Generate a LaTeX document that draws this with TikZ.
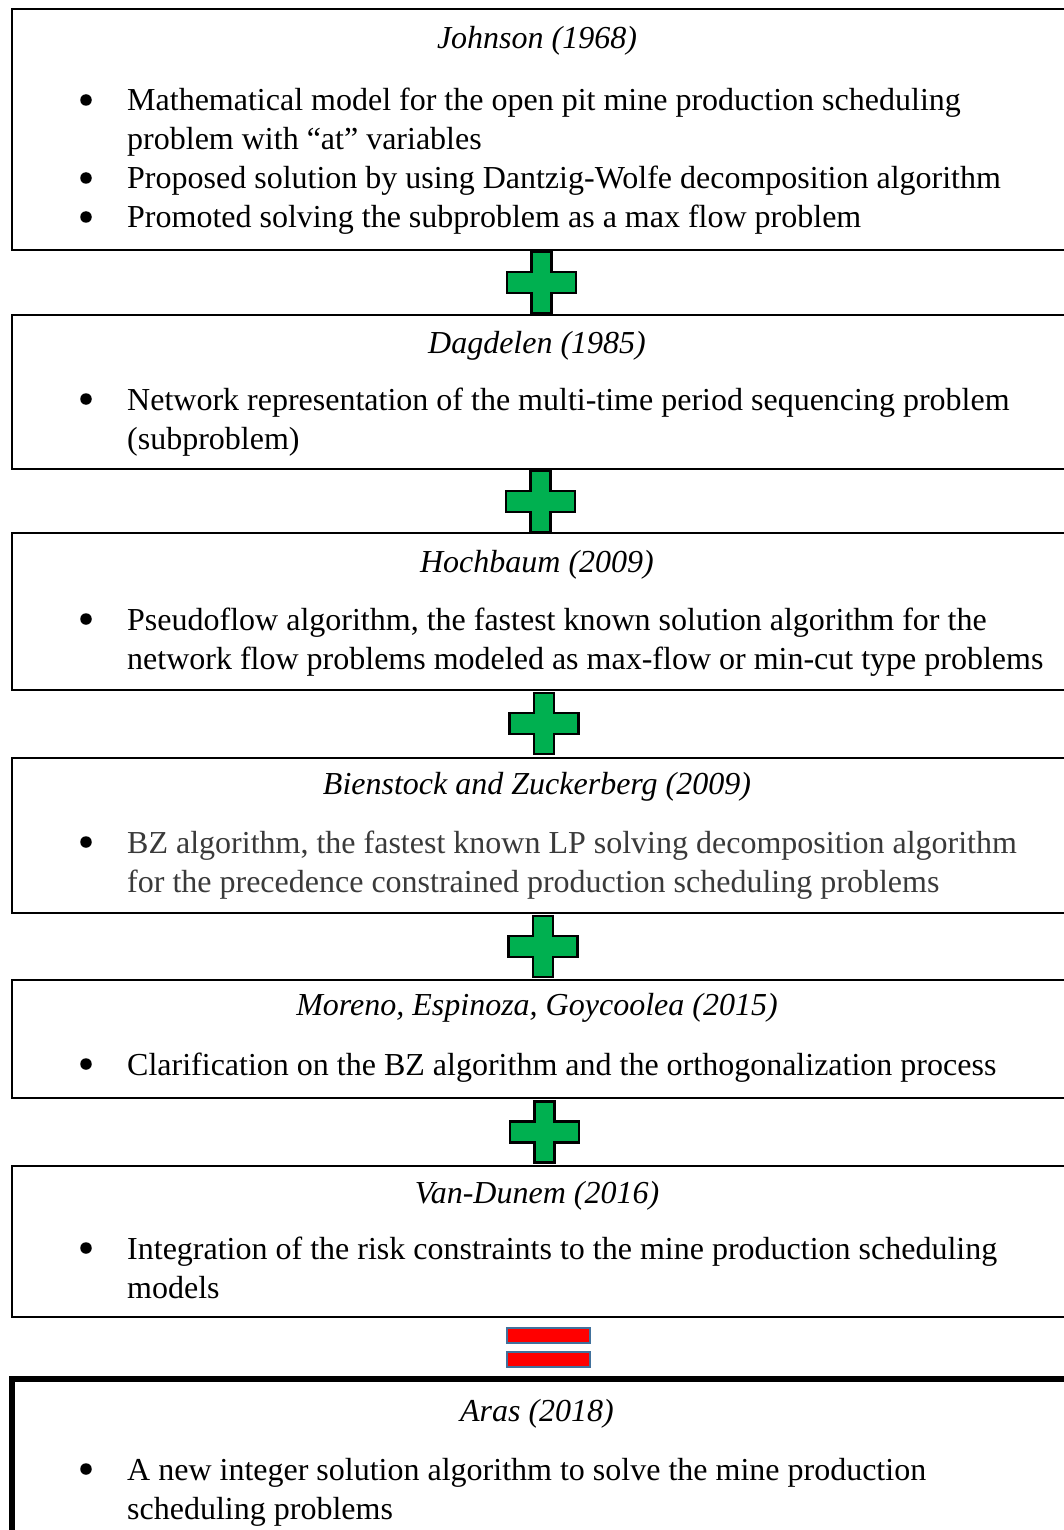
\documentclass[tikz,border=0pt]{standalone}
\usepackage{fontspec}
\setmainfont{Liberation Serif}
\definecolor{plusgreen}{HTML}{00B050}
\definecolor{eqred}{HTML}{FF0000}
\definecolor{eqedge}{HTML}{41719C}
\definecolor{softtext}{HTML}{3A3A3A}
\tikzset{
  pics/plusmark/.style={code={
    \draw[plussign] (-10,-30.5) -- (10,-30.5) -- (10,-10.5) -- (34.5,-10.5)
      -- (34.5,10.5) -- (10,10.5) -- (10,30.5) -- (-10,30.5) -- (-10,10.5)
      -- (-34.5,10.5) -- (-34.5,-10.5) -- (-10,-10.5) -- cycle;}}
}
\begin{document}
\begin{tikzpicture}[x=1pt,y=-1pt,
  entrybox/.style={draw=black, line width=2.2pt, fill=white, inner sep=0pt,
    anchor=north west, minimum width=1075pt},
  finalbox/.style={entrybox, line width=6pt},
  heading/.style={font=\fontsize{32}{39}\selectfont\itshape, anchor=base, inner sep=0pt},
  itemtext/.style={font=\fontsize{32}{39}\selectfont, anchor=base west, inner sep=0pt},
  bulletmark/.style={circle, fill=black, inner sep=0pt, minimum size=11.5pt},
  plussign/.style={draw=black, line width=2.2pt, fill=plusgreen, line join=miter},
  eqbar/.style={draw=eqedge, line width=2pt, fill=eqred}]
\useasboundingbox (0,0) rectangle (1064,1530);
\clip (0,0) rectangle (1064,1530);
\fill[white] (0,0) rectangle (1064,1530);

% ---- Johnson (1968)
\node[entrybox, minimum height=241pt] (b1) at (10.5,8) {};
\node[heading] (t1) at (537,49) {Johnson (1968)};
\node[bulletmark] (d1a) at (86,100) {};
\node[itemtext] (l1a) at (127,111) {Mathematical model for the open pit mine production scheduling};
\node[itemtext] (l1b) at (127,150) {problem with “at” variables};
\node[bulletmark] (d1b) at (86,178) {};
\node[itemtext] (l1c) at (127,189) {Proposed solution by using Dantzig-Wolfe decomposition algorithm};
\node[bulletmark] (d1c) at (86,217) {};
\node[itemtext] (l1d) at (127,228) {Promoted solving the subproblem as a max flow problem};

\pic at (541.5,282.5) {plusmark};

% ---- Dagdelen (1985)
\node[entrybox, minimum height=154pt] (b2) at (10.5,314) {};
\node[heading] (t2) at (537,353) {Dagdelen (1985)};
\node[bulletmark] (d2a) at (86,399) {};
\node[itemtext] (l2a) at (127,410) {Network representation of the multi-time period sequencing problem};
\node[itemtext] (l2b) at (127,449) {(subproblem)};

\pic at (540.5,501.5) {plusmark};

% ---- Hochbaum (2009)
\node[entrybox, minimum height=157pt] (b3) at (10.5,532) {};
\node[heading] (t3) at (537,572) {Hochbaum (2009)};
\node[bulletmark] (d3a) at (86,619) {};
\node[itemtext] (l3a) at (127,630) {Pseudoflow algorithm, the fastest known solution algorithm for the};
\node[itemtext] (l3b) at (127,669) {network flow problems modeled as max-flow or min-cut type problems};

\pic at (544,723.5) {plusmark};

% ---- Bienstock and Zuckerberg (2009)
\node[entrybox, minimum height=155pt] (b4) at (10.5,757) {};
\node[heading] (t4) at (537,794) {Bienstock and Zuckerberg (2009)};
\node[bulletmark] (d4a) at (86,842) {};
\node[itemtext, text=softtext] (l4a) at (127,853) {BZ algorithm, the fastest known LP solving decomposition algorithm};
\node[itemtext, text=softtext] (l4b) at (127,892) {for the precedence constrained production scheduling problems};

\pic at (543,946.5) {plusmark};

% ---- Moreno, Espinoza, Goycoolea (2015)
\node[entrybox, minimum height=118pt] (b5) at (10.5,979) {};
\node[heading] (t5) at (537,1015) {Moreno, Espinoza, Goycoolea (2015)};
\node[bulletmark] (d5a) at (86,1064) {};
\node[itemtext] (l5a) at (127,1075) {Clarification on the BZ algorithm and the orthogonalization process};

\pic at (544.5,1132) {plusmark};

% ---- Van-Dunem (2016)
\node[entrybox, minimum height=151pt] (b6) at (10.5,1165) {};
\node[heading] (t6) at (537,1203) {Van-Dunem (2016)};
\node[bulletmark] (d6a) at (86,1248) {};
\node[itemtext] (l6a) at (127,1259) {Integration of the risk constraints to the mine production scheduling};
\node[itemtext] (l6b) at (127,1298) {models};

% ---- equals sign
\draw[eqbar] (507,1328) rectangle (590,1343);
\draw[eqbar] (507,1352) rectangle (590,1367);

% ---- Aras (2018)
\node[finalbox, minimum height=220pt] (b7) at (8.5,1376) {};
\node[heading] (t7) at (537,1421) {Aras (2018)};
\node[bulletmark] (d7a) at (86,1469) {};
\node[itemtext] (l7a) at (127,1480) {A new integer solution algorithm to solve the mine production};
\node[itemtext] (l7b) at (127,1519) {scheduling problems};
\end{tikzpicture}
\end{document}
